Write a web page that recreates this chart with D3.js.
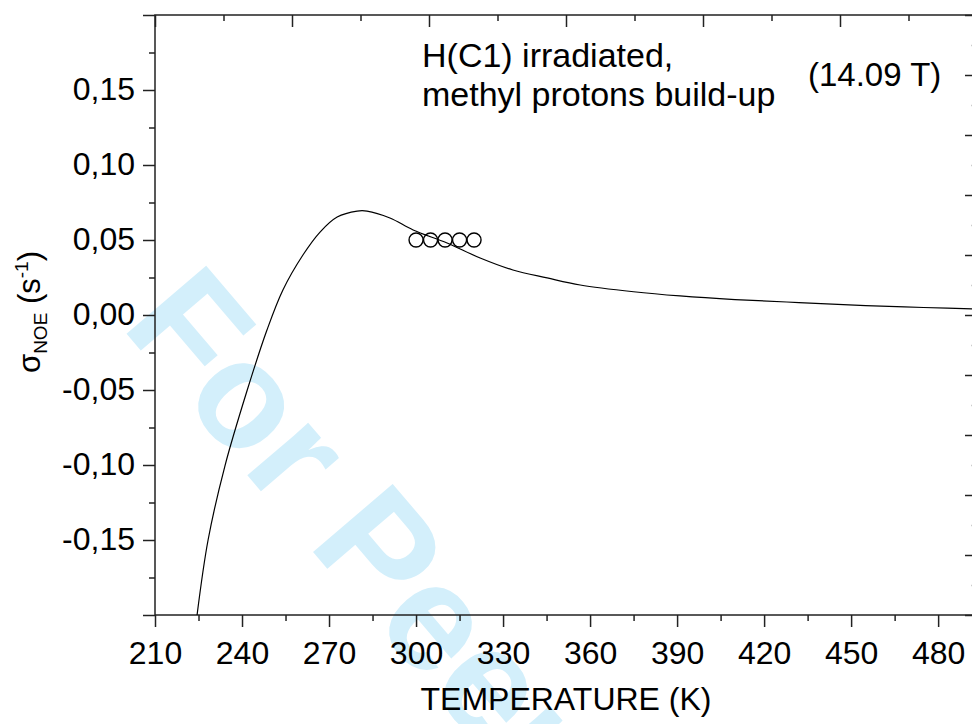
<!DOCTYPE html>
<html>
<head>
<meta charset="utf-8">
<script src="https://cdn.jsdelivr.net/npm/d3@7"></script>
<style>
  html, body { margin: 0; padding: 0; background: #fff; }
  svg { display: block; font-family: "Liberation Sans", Arial, Helvetica, sans-serif; }
</style>
</head>
<body>
<svg id="chart" width="972" height="724"></svg>
<script>
// Model curve: temperature (K) vs sigma NOE (s^-1)
var curveTemp = [224.5, 228.3, 234.1, 241.7, 248.6, 254.1, 261.0, 266.9, 272.8, 279.7, 283.1, 291.0, 299.0, 310.7, 322.1, 333.4, 345.2, 356.6, 375, 391, 410, 432, 455, 475, 495];
var curveSigma = [-0.200, -0.150, -0.1007, -0.0507, -0.0100, 0.0167, 0.0400, 0.0553, 0.0653, 0.0693, 0.0693, 0.0647, 0.0567, 0.0480, 0.0380, 0.0300, 0.0247, 0.0200, 0.0155, 0.0127, 0.0103, 0.0083, 0.0063, 0.0050, 0.0039];

// Experimental points
var pointTemp = [300, 305, 310, 315, 320];
var pointSigma = [0.05, 0.05, 0.05, 0.05, 0.05];

// Ticks
var xMajorTicks = [210, 240, 270, 300, 330, 360, 390, 420, 450, 480];
var xMinorTicks = [225, 255, 285, 315, 345, 375, 405, 435, 465];
var yMajorTicks = [-0.20, -0.15, -0.10, -0.05, 0.00, 0.05, 0.10, 0.15, 0.20];
var yMinorTicks = [-0.175, -0.125, -0.075, -0.025, 0.025, 0.075, 0.125, 0.175];
var yLabelled = [-0.15, -0.10, -0.05, 0.00, 0.05, 0.10, 0.15];

var xDomain = [210, 493.4];
var yDomain = [-0.20, 0.20];

var annotLines = ["H(C1) irradiated,", "methyl protons build-up"];
var fieldLabel = "(14.09 T)";
var xTitle = "TEMPERATURE (K)";
var watermark = "For Peer Review";

var PLOT = {left: 155, right: 977, top: 15, bottom: 615};
var AXIS_COLOR = "#222";
var FONT = 32;

var svg = d3.select('#chart');

var xScale = d3.scaleLinear().domain(xDomain).range([PLOT.left, PLOT.right]);
var yScale = d3.scaleLinear().domain(yDomain).range([PLOT.bottom, PLOT.top]);
// mirror axes on the top and right carry their own tick spacing
var topScale = d3.scaleLinear().domain([0, 12]).range([PLOT.left, PLOT.right]);
var rightScale = d3.scaleLinear().domain([0, 20]).range([PLOT.bottom, PLOT.top]);

var commaLocale = d3.formatLocale({decimal: ",", thousands: ".", grouping: [3], currency: ["", ""], minus: "-"});
var fmt = commaLocale.format(".2f");

// watermark behind everything
svg.append("text")
    .attr("transform", "translate(120,326) rotate(49.5)")
    .attr("font-size", 152)
    .attr("font-weight", "bold")
    .attr("fill", "#d3effb")
    .text(watermark);

function styleAxis(g){
    g.selectAll("path.domain").remove();
    g.selectAll(".tick line").attr("stroke", AXIS_COLOR).attr("stroke-width", 1.5);
    g.selectAll(".tick text").attr("fill", "#000").attr("font-size", FONT)
        .attr("font-family", "'Liberation Sans', Arial, sans-serif");
}

// bottom axis
var gx = svg.append("g").attr("transform", "translate(0," + PLOT.bottom + ")");
gx.call(d3.axisBottom(xScale).tickValues(xMajorTicks).tickSize(12).tickPadding(6).tickFormat(d3.format("d")));
styleAxis(gx);
gx.selectAll(".tick text").attr("dy", "0.71em").attr("y", 26);
var gxm = svg.append("g").attr("transform", "translate(0," + PLOT.bottom + ")");
gxm.call(d3.axisBottom(xScale).tickValues(xMinorTicks).tickSize(6).tickFormat(""));
styleAxis(gxm);

// left axis
var gy = svg.append("g").attr("transform", "translate(" + PLOT.left + ",0)");
gy.call(d3.axisLeft(yScale).tickValues(yMajorTicks).tickSize(12).tickPadding(8)
    .tickFormat(function(d){
        var hit = yLabelled.some(function(v){ return Math.abs(v - d) < 1e-9; });
        return hit ? fmt(d) : "";
    }));
styleAxis(gy);
gy.selectAll(".tick text").attr("dy", "0.30em");
var gym = svg.append("g").attr("transform", "translate(" + PLOT.left + ",0)");
gym.call(d3.axisLeft(yScale).tickValues(yMinorTicks).tickSize(6).tickFormat(""));
styleAxis(gym);

// top mirror axis (ticks inward)
var topMajor = d3.range(0, 13, 2), topMinor = d3.range(1, 12, 2);
var gt = svg.append("g").attr("transform", "translate(0," + PLOT.top + ")");
gt.call(d3.axisTop(topScale).tickValues(topMajor).tickSize(-12).tickFormat(""));
styleAxis(gt);
var gtm = svg.append("g").attr("transform", "translate(0," + PLOT.top + ")");
gtm.call(d3.axisTop(topScale).tickValues(topMinor).tickSize(-6).tickFormat(""));
styleAxis(gtm);

// right mirror axis (ticks inward)
var rightMajor = d3.range(0, 21, 2), rightMinor = d3.range(1, 20, 2);
var gr = svg.append("g").attr("transform", "translate(" + PLOT.right + ",0)");
gr.call(d3.axisRight(rightScale).tickValues(rightMajor).tickSize(-12).tickFormat(""));
styleAxis(gr);
var grm = svg.append("g").attr("transform", "translate(" + PLOT.right + ",0)");
grm.call(d3.axisRight(rightScale).tickValues(rightMinor).tickSize(-6).tickFormat(""));
styleAxis(grm);
grm.selectAll(".tick line").attr("stroke", "#ccc");

// frame
svg.append("rect")
    .attr("x", PLOT.left).attr("y", PLOT.top)
    .attr("width", PLOT.right - PLOT.left).attr("height", PLOT.bottom - PLOT.top)
    .attr("fill", "none").attr("stroke", AXIS_COLOR).attr("stroke-width", 1.5);

// clip for the curve
svg.append("clipPath").attr("id", "plotClip")
  .append("rect")
    .attr("x", PLOT.left).attr("y", PLOT.top)
    .attr("width", PLOT.right - PLOT.left).attr("height", PLOT.bottom - PLOT.top);

var curveData = curveTemp.map(function(t, i){ return {x: t, y: curveSigma[i]}; });
var lineFunc = d3.line()
    .x(function(d){ return xScale(d.x); })
    .y(function(d){ return yScale(d.y); })
    .curve(d3.curveCatmullRom.alpha(0.5));

svg.append("path")
    .attr("d", lineFunc(curveData))
    .attr("clip-path", "url(#plotClip)")
    .attr("fill", "none")
    .attr("stroke", "#000")
    .attr("stroke-width", 1.2);

// open circles
svg.selectAll("circle.pt")
    .data(pointTemp.map(function(t, i){ return {x: t, y: pointSigma[i]}; }))
  .enter().append("circle")
    .attr("class", "pt")
    .attr("cx", function(d){ return xScale(d.x); })
    .attr("cy", function(d){ return yScale(d.y); })
    .attr("r", 7)
    .attr("fill", "none")
    .attr("stroke", "#000")
    .attr("stroke-width", 1.4);

// annotations
svg.append("text").attr("x", 422).attr("y", 67).attr("font-size", 34).text(annotLines[0]);
svg.append("text").attr("x", 422).attr("y", 106).attr("font-size", 34).text(annotLines[1]);
svg.append("text").attr("x", 808).attr("y", 86).attr("font-size", 33).text(fieldLabel);

// x title
svg.append("text")
    .attr("x", (PLOT.left + PLOT.right) / 2)
    .attr("y", 710)
    .attr("text-anchor", "middle")
    .attr("font-size", 32)
    .text(xTitle);

// y title: sigma_NOE (s^-1)
var yt = svg.append("text")
    .attr("transform", "translate(40,312) rotate(-90)")
    .attr("text-anchor", "middle")
    .attr("font-size", 31);
yt.append("tspan").text("σ");
yt.append("tspan").attr("font-size", 19).attr("dy", 7).text("NOE");
yt.append("tspan").attr("dy", -7).text(" (s");
yt.append("tspan").attr("font-size", 19).attr("dy", -12).text("-1");
yt.append("tspan").attr("dy", 12).text(")");
</script>
</body>
</html>
